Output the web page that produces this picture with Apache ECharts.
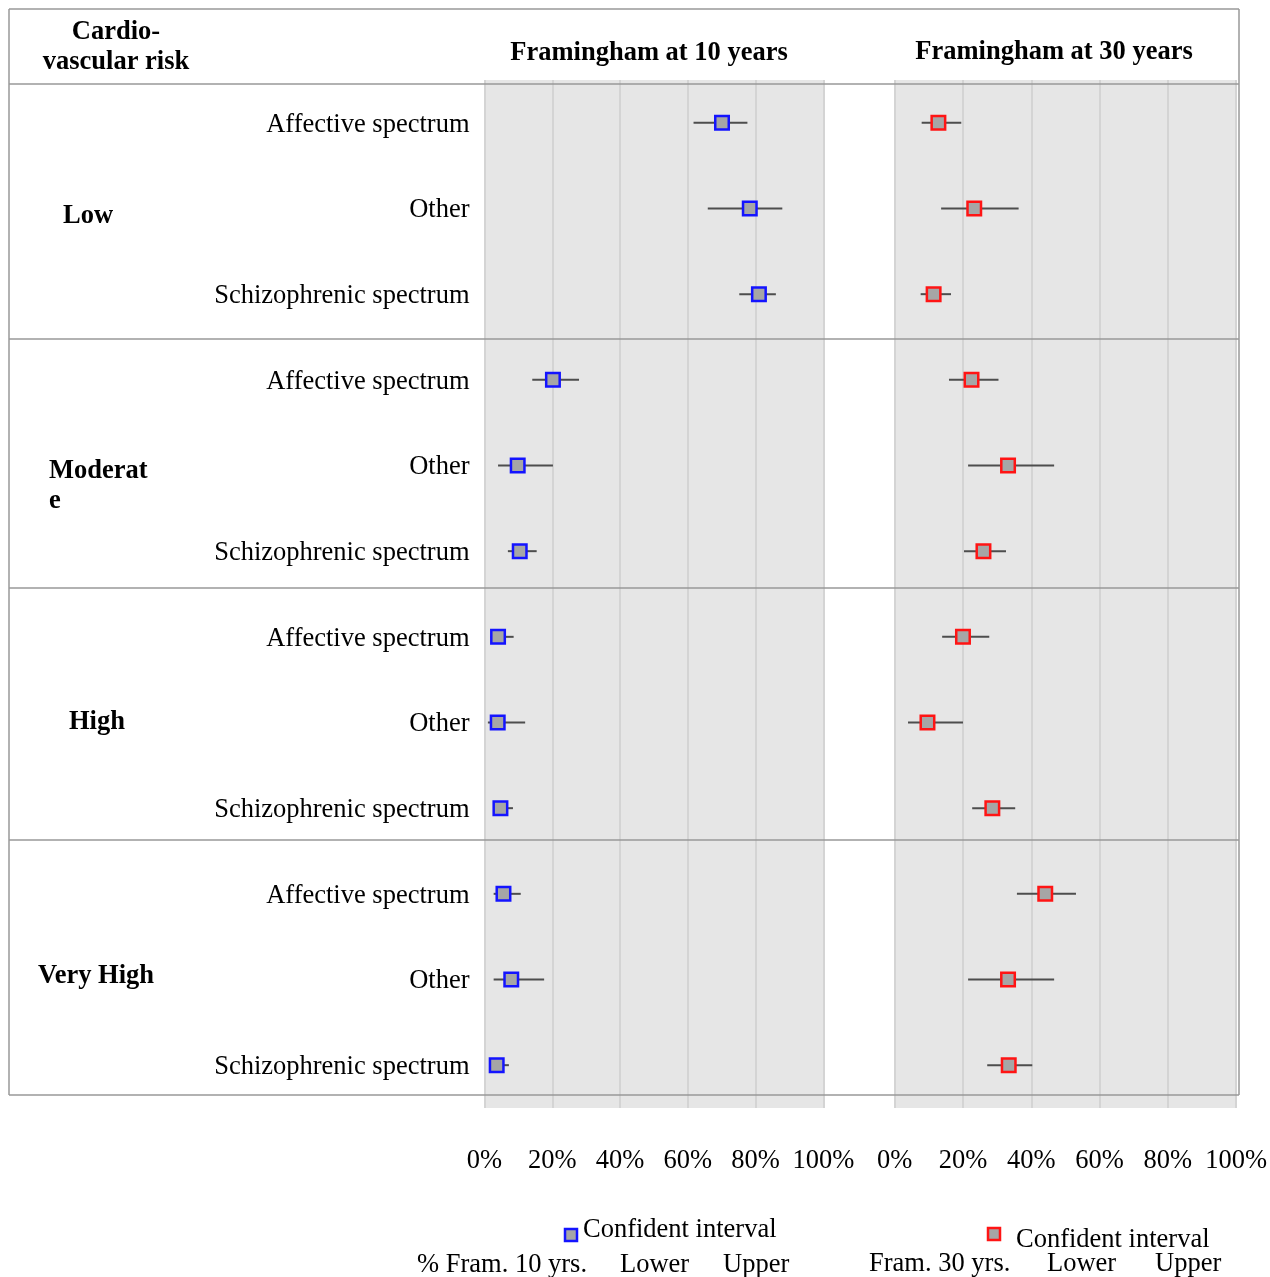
<!DOCTYPE html>
<html>
<head>
<meta charset="utf-8">
<script src="https://cdn.jsdelivr.net/npm/echarts@6/dist/echarts.min.js"></script>
<style>
  html, body { margin: 0; padding: 0; background: #fff; }
  #chart { width: 1270px; height: 1277px; }
</style>
</head>
<body>
<div id="chart"></div>
<script>
// rows: 4 risk groups x 3 diagnosis groups
const groups = ['Low', 'Moderat\ne', 'High', 'Very High'];
const subgroups = ['Affective spectrum', 'Other', 'Schizophrenic spectrum'];
const rowLabels = [];
groups.forEach(() => subgroups.forEach(s => rowLabels.push(s)));

const xTicks = [0, 20, 40, 60, 80, 100];

// Framingham at 10 years (%)
const fram10 = [70.1, 78.3, 81.0, 20.2, 9.8, 10.4, 4.0, 3.9, 4.7, 5.6, 7.9, 3.6];
const lower10 = [61.7, 65.9, 75.2, 14.1, 4.0, 6.9, 1.8, 1.0, 2.5, 2.7, 2.7, 1.6];
const upper10 = [77.6, 87.9, 86.0, 27.9, 20.2, 15.4, 8.6, 12.0, 8.4, 10.7, 17.6, 7.2];

// Framingham at 30 years (%)
const fram30 = [12.8, 23.3, 11.4, 22.5, 33.2, 26.0, 20.0, 9.6, 28.6, 44.1, 33.2, 33.4];
const lower30 = [7.9, 13.6, 7.6, 15.9, 21.5, 20.3, 13.9, 3.9, 22.7, 35.8, 21.5, 27.1];
const upper30 = [19.5, 36.3, 16.5, 30.4, 46.7, 32.6, 27.7, 20.0, 35.3, 53.1, 46.7, 40.3];

const FONT = 'Liberation Serif';
const FS = 26.5;
const LINE = '#999999';

function errorBars(gridIdx, lo, up) {
  return {
    type: 'custom',
    xAxisIndex: gridIdx,
    yAxisIndex: gridIdx,
    z: 3,
    data: lo.map((v, i) => [v, up[i], i]),
    renderItem: function (params, api) {
      const a = api.coord([api.value(0), api.value(2)]);
      const b = api.coord([api.value(1), api.value(2)]);
      return {
        type: 'line',
        shape: { x1: a[0], y1: a[1], x2: b[0], y2: b[1] },
        style: { stroke: '#4d4d4d', lineWidth: 2 }
      };
    }
  };
}

function points(gridIdx, vals, border) {
  return {
    type: 'scatter',
    xAxisIndex: gridIdx,
    yAxisIndex: gridIdx,
    z: 4,
    symbol: 'rect',
    symbolSize: 13.5,
    itemStyle: { color: '#a6a6a6', borderColor: border, borderWidth: 2.5, opacity: 1 },
    data: vals.map((v, i) => [v, i])
  };
}

function xAxis(gridIdx) {
  return {
    type: 'value',
    gridIndex: gridIdx,
    min: 0,
    max: 100,
    interval: 20,
    axisLine: { show: false },
    axisTick: { show: false },
    splitLine: { show: true, lineStyle: { color: '#d4d4d4', width: 2 } },
    axisLabel: {
      formatter: '{value}%',
      margin: 40,
      fontFamily: FONT,
      fontSize: FS,
      color: '#000'
    }
  };
}

function yAxis(gridIdx, showLabels) {
  return {
    type: 'category',
    gridIndex: gridIdx,
    inverse: true,
    data: rowLabels,
    axisLine: { show: false },
    axisTick: { show: false },
    splitLine: { show: false },
    axisLabel: {
      show: showLabels,
      margin: 15,
      interval: 0,
      formatter: '{r|{value}}',
      rich: {
        r: { fontFamily: FONT, fontSize: FS, color: '#000', padding: [4, 0, 0, 0] }
      }
    }
  };
}

function txt(x, y, text, opts) {
  return {
    type: 'text',
    x: x, y: y + 2, z: 5,
    style: Object.assign({
      text: text,
      fontFamily: FONT,
      fontSize: FS,
      fill: '#000',
      verticalAlign: 'middle',
      align: 'left'
    }, opts || {})
  };
}

function hline(y, x1, x2) {
  return { type: 'line', z: 1, shape: { x1: x1, y1: y, x2: x2, y2: y }, style: { stroke: LINE, lineWidth: 1.5 } };
}
function vline(x, y1, y2) {
  return { type: 'line', z: 1, shape: { x1: x, y1: y1, x2: x, y2: y2 }, style: { stroke: LINE, lineWidth: 1.5 } };
}
function legendBox(x, y, border) {
  return { type: 'rect', z: 5, shape: { x: x, y: y, width: 12, height: 12 }, style: { fill: '#a6a6a6', stroke: border, lineWidth: 2.5 } };
}

const chart = echarts.init(document.getElementById('chart'), null, { renderer: 'canvas' });

const option = {
  animation: false,
  backgroundColor: '#fff',
  grid: [
    { left: 484.5, width: 338.8, top: 80, height: 1028, show: true, backgroundColor: '#e6e6e6', borderWidth: 0 },
    { left: 894.7, width: 343.6, top: 80, height: 1028, show: true, backgroundColor: '#e6e6e6', borderWidth: 0 }
  ],
  xAxis: [xAxis(0), xAxis(1)],
  yAxis: [yAxis(0, true), yAxis(1, false)],
  series: [
    errorBars(0, lower10, upper10),
    points(0, fram10, '#1414ff'),
    errorBars(1, lower30, upper30),
    points(1, fram30, '#ff1414')
  ],
  graphic: [
    // table frame
    hline(9, 9, 1239),
    hline(84, 9, 1239),
    hline(339, 9, 1239),
    hline(588, 9, 1239),
    hline(840, 9, 1239),
    hline(1095, 9, 1239),
    vline(9, 9, 1095),
    vline(1239, 9, 1095),
    // header
    txt(116, 30, 'Cardio-', { fontWeight: 'bold', align: 'center' }),
    txt(116, 60, 'vascular risk', { fontWeight: 'bold', align: 'center' }),
    txt(649, 51, 'Framingham at 10 years', { fontWeight: 'bold', align: 'center' }),
    txt(1054, 50, 'Framingham at 30 years', { fontWeight: 'bold', align: 'center' }),
    // risk groups
    txt(63, 214, groups[0], { fontWeight: 'bold' }),
    txt(49, 469, 'Moderat', { fontWeight: 'bold' }),
    txt(49, 499, 'e', { fontWeight: 'bold' }),
    txt(69, 720, groups[2], { fontWeight: 'bold' }),
    txt(38, 974, groups[3], { fontWeight: 'bold' }),
    // legends
    legendBox(565, 1229, '#1414ff'),
    txt(583, 1228, 'Confident interval'),
    txt(417, 1263, '% Fram. 10 yrs.'),
    txt(620, 1263, 'Lower'),
    txt(723, 1263, 'Upper'),
    legendBox(988, 1228, '#ff1414'),
    txt(1016, 1238, 'Confident interval'),
    txt(869, 1262, 'Fram. 30 yrs.'),
    txt(1047, 1262, 'Lower'),
    txt(1155, 1262, 'Upper')
  ]
};

chart.setOption(option);
</script>
</body>
</html>
